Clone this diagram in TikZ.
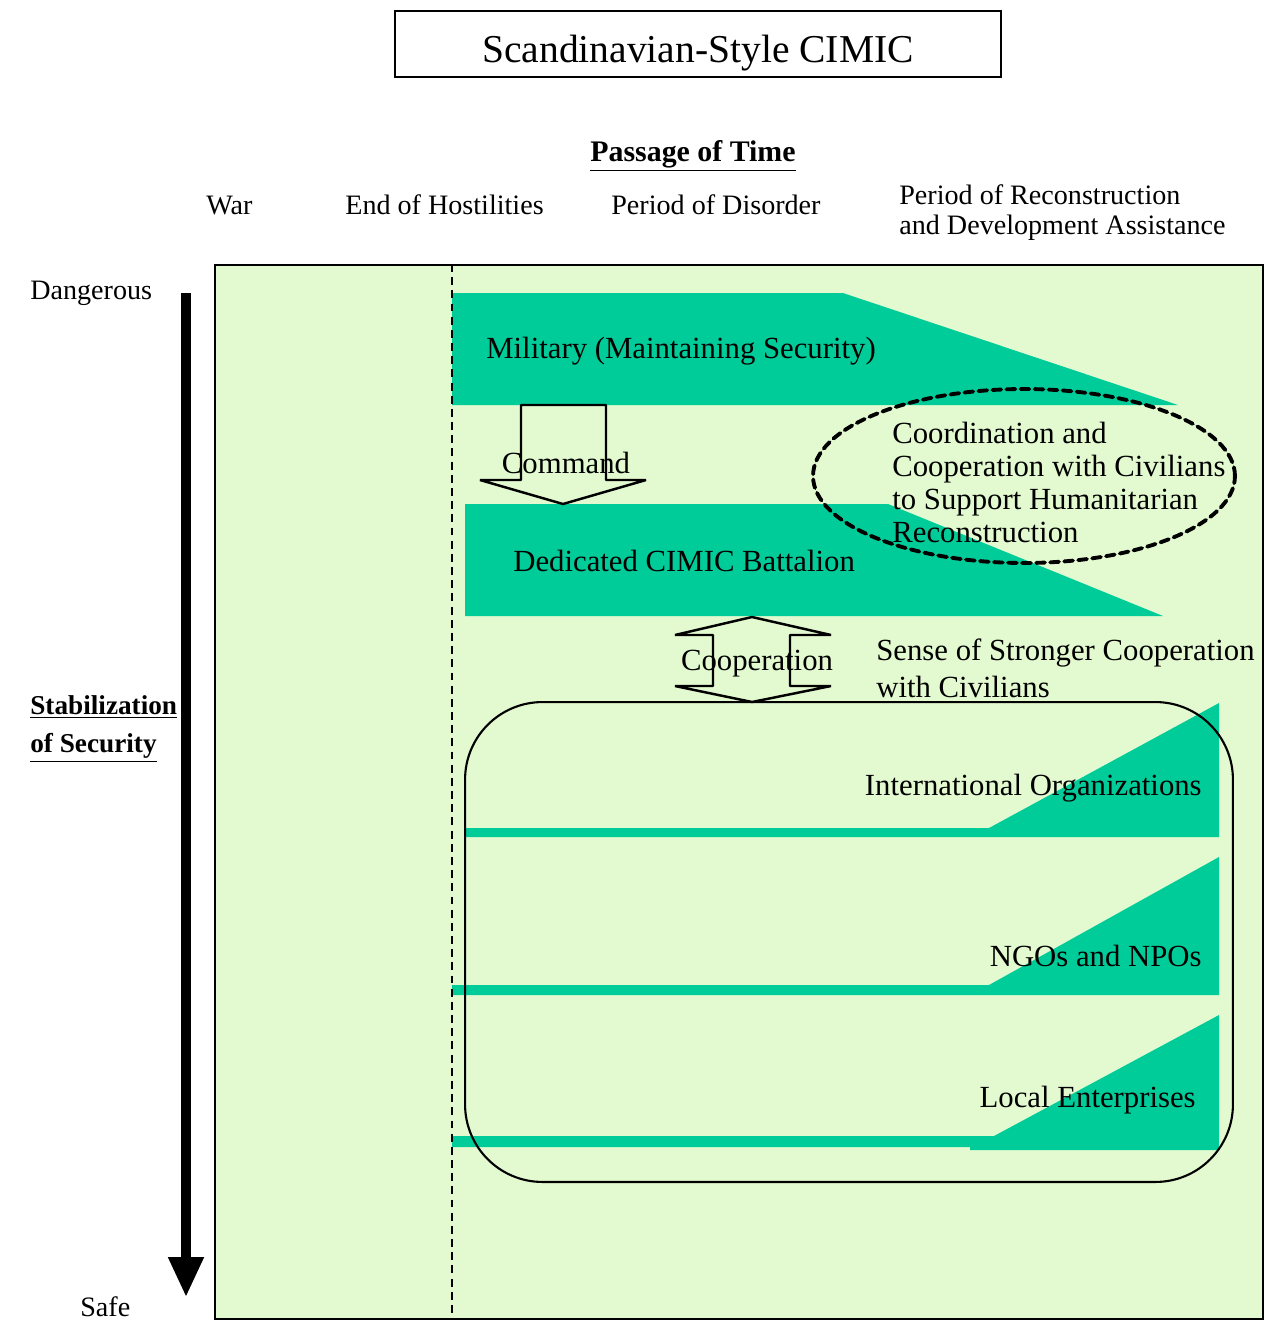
\documentclass[tikz,border=0pt]{standalone}
\usepackage{fontspec}
\setmainfont{Liberation Serif}
\usetikzlibrary{arrows.meta,shapes.geometric}
\definecolor{cimicgreen}{HTML}{00CC99}
\definecolor{palegreen}{HTML}{E3FAD0}
\tikzstyle{band} = [fill=cimicgreen]
\tikzstyle{hollow} = [draw,line width=1.4pt,line join=bevel]
\tikzstyle{lbl} = [inner sep=0,anchor=base west,font=\fontsize{17.5}{19}\selectfont]
\tikzstyle{hdr} = [inner sep=0,anchor=base west,font=\fontsize{16}{17}\selectfont]

\begin{document}
\begin{tikzpicture}[x=0.02cm,y=-0.02cm,bold/.style={inner sep=0,font=\bfseries\fontsize{#1}{22}\selectfont}]
    \useasboundingbox (0,0) rectangle (1281,1320);

    \node[draw,line width=1.3pt,inner sep=0,anchor=base,text height=29pt,text depth=8.5pt,minimum width=12.12cm,font=\fontsize{22.5}{24}\selectfont] (title) at (698,62) {Scandinavian-Style CIMIC};

    \node[bold=17,anchor=base] (passage) at (693,161) {\underline{Passage of Time}};
    \node[hdr] (war) at (206,214) {War};
    \node[hdr] (endhost) at (345,214) {End of Hostilities};
    \node[hdr] (disorder) at (611,214) {Period of Disorder};
    \node[hdr,anchor=north west,align=left] (recon) at (899,184) {Period of Reconstruction\\and Development Assistance};

    \node[hdr] (danger) at (30,299) {Dangerous};
    \node[hdr] (safe) at (80,1316) {Safe};
    \node[bold=15.5,anchor=north west,align=left] (stab) at (30,695) {\underline{Stabilization}\\\underline{of Security}};
    \coordinate (risktop) at (186,293);
    \coordinate (riskend) at (186,1296);
    \draw[line width=5.7pt,-{Triangle[width=0.73cm,length=0.78cm,line width=0pt]}] (risktop) -- (riskend);

    \node[draw,fill=palegreen,line width=1.3pt,inner sep=0,anchor=north west,minimum width=20.96cm,minimum height=21.08cm] (field) at (214,264) {};

    \path[band] (452,293) -- (843,293) -- (1178,405) -- (452,405) -- cycle;
    \path[band] (465,504) -- (888,504) -- (1163,616) -- (465,616) -- cycle;
    \path[band] (465,828) -- (989,828) -- (1219,703) -- (1219,837) -- (465,837) -- cycle;
    \path[band] (452,985) -- (989,985) -- (1219,857) -- (1219,995) -- (452,995) -- cycle;
    \path[band] (452,1136) -- (994,1136) -- (1219,1015) -- (1219,1150) -- (970,1150) -- (970,1147) -- (452,1147) -- cycle;

    \draw[line width=1.5pt,dash pattern=on 4.5pt off 3pt] (452,264) -- (452,1318);

    \draw[hollow] (521,405) -- (606,405) -- (606,480) -- (646,480) -- (563,504) -- (480,480) -- (521,480) -- cycle;
    \draw[hollow] (752,617) -- (831,635) -- (790,635) -- (790,686) -- (831,686) -- (752,702) -- (675,686) -- (713,686) -- (713,635) -- (675,635) -- cycle;

    \node[draw,line width=1.2pt,rounded corners=1.55cm,inner sep=0,minimum width=15.36cm,minimum height=9.6cm] (civbox) at (849,942) {};
    \node[ellipse,draw,line width=2.2pt,dash pattern=on 5pt off 3pt,line cap=round,inner sep=0,minimum width=8.44cm,minimum height=3.48cm] (ring) at (1024,476) {};

    \node[lbl] (military) at (486,358) {Military (Maintaining Security)};
    \node[lbl,anchor=base] (command) at (566,473) {Command};
    \node[lbl] (battalion) at (513,571) {Dedicated CIMIC Battalion};
    \node[lbl,anchor=base] (coop) at (757,670) {Cooperation};
    \node[lbl,anchor=north west,align=left,font=\fontsize{17.5}{18.8}\selectfont] (support) at (892,422) {Coordination and\\Cooperation with Civilians\\to Support Humanitarian\\Reconstruction};
    \node[lbl,anchor=north west,align=left,font=\fontsize{17.5}{21.6}\selectfont] (sense) at (876,638) {Sense of Stronger Cooperation\\with Civilians};

    \node[lbl,anchor=base east] (intorg) at (1202,795) {International Organizations};
    \node[lbl,anchor=base east] (ngo) at (1202,966) {NGOs and NPOs};
    \node[lbl,anchor=base east] (local) at (1196,1107) {Local Enterprises};

    \end{tikzpicture}
\end{document}
